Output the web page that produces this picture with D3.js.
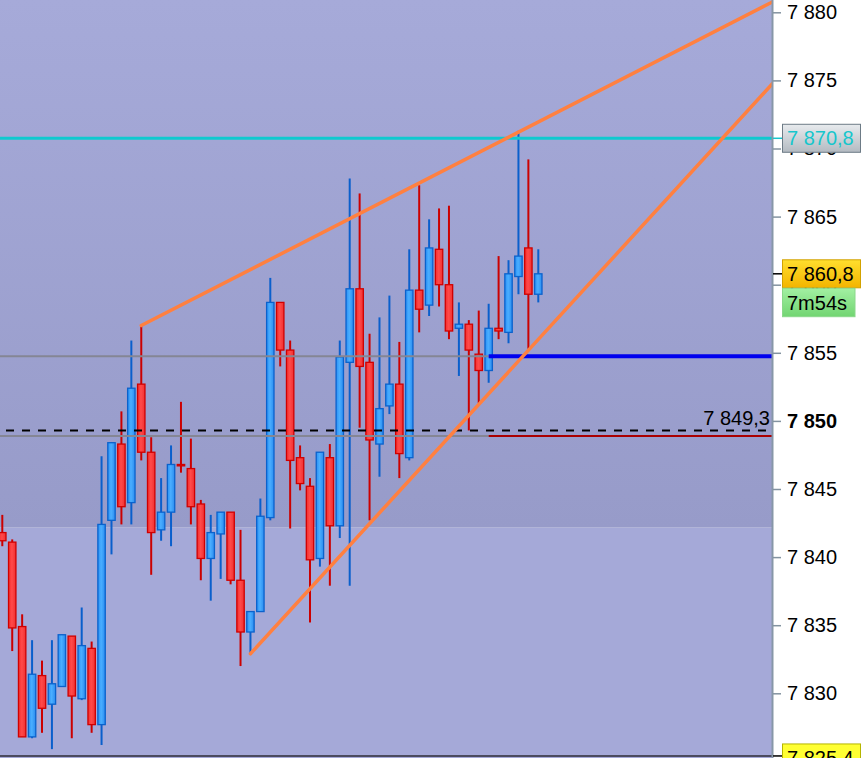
<!DOCTYPE html>
<html><head><meta charset="utf-8">
<script src="https://cdn.jsdelivr.net/npm/d3@7"></script>
<style>body{margin:0;background:#fff;} svg{display:block;font-family:"Liberation Sans",Arial,Helvetica,sans-serif;}</style>
</head><body><svg id="c" width="866" height="758"></svg>
<script>
// ---- data ----
const opens  = [7841.8,7841.1,7834.9,7826.8,7831.3,7829.2,7830.5,7834.2,7829.6,7833.3,7827.7,7842.7,7848.3,7844.0,7852.7,7847.7,7842.0,7843.3,7846.8,7846.5,7843.9,7839.9,7841.7,7843.3,7838.3,7834.5,7836.0,7842.9,7858.7,7855.2,7847.3,7845.2,7839.9,7847.3,7842.3,7854.3,7859.7,7854.3,7848.3,7851.1,7852.7,7847.3,7859.6,7858.5,7862.6,7860.0,7856.8,7857.1,7854.9,7853.7,7856.8,7856.5,7860.6,7862.7,7859.3];
const highs  = [7843.1,7841.3,7835.8,7833.9,7832.4,7833.9,7834.3,7834.2,7836.3,7833.8,7847.4,7848.4,7850.7,7855.9,7857.0,7848.8,7845.8,7848.2,7851.4,7848.7,7844.2,7843.1,7843.3,7843.3,7842.0,7836.0,7844.3,7860.5,7858.7,7855.9,7848.2,7845.8,7847.7,7848.3,7855.9,7867.8,7866.7,7856.4,7857.6,7859.2,7855.8,7862.6,7867.3,7864.8,7865.6,7865.8,7858.7,7857.4,7858.1,7858.6,7862.1,7861.8,7871.3,7869.2,7862.6];
const lows   = [7840.8,7833.1,7826.8,7826.7,7827.1,7825.9,7830.5,7826.7,7829.5,7827.1,7826.2,7840.2,7842.4,7842.4,7847.1,7838.7,7841.2,7840.8,7846.2,7842.4,7838.3,7836.8,7838.4,7838.0,7832.0,7832.9,7836.0,7842.7,7854.0,7842.1,7844.9,7835.2,7839.3,7837.9,7841.4,7837.9,7849.5,7842.7,7845.9,7850.5,7845.8,7847.1,7856.5,7857.7,7858.4,7856.0,7853.3,7849.3,7851.3,7852.8,7856.0,7855.7,7859.3,7855.3,7858.7];
const closes = [7841.2,7834.8,7826.8,7831.4,7828.9,7830.7,7834.3,7829.8,7833.5,7827.7,7842.4,7848.4,7843.7,7852.4,7847.7,7841.8,7843.3,7846.8,7846.7,7843.7,7839.9,7841.8,7843.3,7838.3,7834.5,7836.0,7843.0,7858.7,7855.2,7847.1,7845.4,7839.8,7847.7,7842.3,7854.7,7859.7,7854.0,7848.6,7850.9,7852.7,7847.6,7859.6,7858.2,7862.7,7860.0,7856.6,7857.1,7855.2,7853.7,7856.8,7856.6,7860.8,7862.1,7859.3,7860.8];

const tickValues = [7830,7835,7840,7845,7850,7855,7860,7865,7870,7875,7880];
const boldTick = 7850;
const highLevel = 7870.75;      // cyan line
const highLabel = 7870.8;
const lastPrice = 7860.8;
const timerText = "7m54s";
const lowLabel = 7825.4;
const dashedLevel = 7849.3;
const grayLevels = [7854.75, 7848.9];
const splitIndex = 49;
const blueLevel = 7854.75;
const redLevel = 7848.9;
const upperTrend = [[14, 7857.0], [52, 7871.2]];
const lowerTrend = [[25, 7832.9], [50, 7852.8]];

// ---- layout ----
const W = 866, H = 758, PR = 772, SPLIT_Y = 527.7;
const svg = d3.select("#c");
const x = d3.scaleLinear().domain([0, opens.length - 1]).range([2.3, 538.3]);
const y = d3.scaleLinear().domain([7830, 7880]).range([693.3, 12.3]);
const loc = d3.formatLocale({decimal: ",", thousands: " ", grouping: [3], currency: ["", ""]});
const f0 = loc.format(",.0f"), f1 = loc.format(",.1f");

const defs = svg.append("defs");
function grad(id, stops, vertical) {
  const g = defs.append("linearGradient").attr("id", id)
    .attr("x1", 0).attr("y1", 0).attr("x2", vertical ? 0 : 1).attr("y2", vertical ? 1 : 0);
  stops.forEach(s => g.append("stop").attr("offset", s[0]).attr("stop-color", s[1]));
}
grad("bg", [[0, "#a6aad9"], [1, "#979bc9"]], true);
grad("redB", [[0, "#f42c2c"], [0.45, "#ff4a4a"], [1, "#f03030"]], false);
grad("blueB", [[0, "#2a90f4"], [0.45, "#4aaeff"], [1, "#2b8cf0"]], false);
grad("grayBox", [[0, "#e8ebee"], [1, "#b3bac1"]], true);
grad("goldBox", [[0, "#ffdf2e"], [1, "#f3b400"]], true);
grad("greenBox", [[0, "#a2f0a2"], [1, "#72d572"]], true);
defs.append("clipPath").attr("id", "plot").append("rect").attr("x", 0).attr("y", 0).attr("width", PR).attr("height", H);

// background
svg.append("rect").attr("x", 0).attr("y", 0).attr("width", W).attr("height", H).attr("fill", "#fff");
svg.append("rect").attr("x", 0).attr("y", 0).attr("width", PR).attr("height", SPLIT_Y).attr("fill", "url(#bg)");
svg.append("rect").attr("x", 0).attr("y", SPLIT_Y).attr("width", PR).attr("height", H - SPLIT_Y).attr("fill", "#a5a9d8");

const plot = svg.append("g").attr("clip-path", "url(#plot)");

// candles
const data = opens.map((o, i) => ({i, o, h: highs[i], l: lows[i], c: closes[i]}));
const cg = plot.selectAll("g.c").data(data).join("g");
cg.append("line")
  .attr("x1", d => x(d.i)).attr("x2", d => x(d.i))
  .attr("y1", d => y(d.h)).attr("y2", d => y(d.l))
  .attr("stroke", d => d.c >= d.o ? "#0a5fcc" : "#cc0000").attr("stroke-width", 2);
cg.append("rect")
  .attr("x", d => x(d.i) - 3.7).attr("width", 7.4)
  .attr("y", d => y(Math.max(d.o, d.c)))
  .attr("height", d => Math.max(1, Math.abs(y(d.o) - y(d.c))))
  .attr("fill", d => d.c >= d.o ? "url(#blueB)" : "url(#redB)")
  .attr("stroke", d => d.c >= d.o ? "#0b62cc" : "#d00000").attr("stroke-width", 1.3);

// horizontal levels
plot.append("line").attr("x1", 0).attr("x2", PR).attr("y1", y(highLevel)).attr("y2", y(highLevel))
  .attr("stroke", "#0fc9cf").attr("stroke-width", 3);
grayLevels.forEach(v => plot.append("line").attr("x1", 0).attr("x2", x(splitIndex))
  .attr("y1", y(v)).attr("y2", y(v)).attr("stroke", "#858694").attr("stroke-width", 2));
plot.append("line").attr("x1", 6).attr("x2", PR).attr("y1", y(dashedLevel)).attr("y2", y(dashedLevel))
  .attr("stroke", "#000").attr("stroke-width", 2).attr("stroke-dasharray", "8,8");
plot.append("line").attr("x1", x(splitIndex)).attr("x2", PR).attr("y1", y(blueLevel)).attr("y2", y(blueLevel))
  .attr("stroke", "#0000ee").attr("stroke-width", 4);
plot.append("line").attr("x1", x(splitIndex)).attr("x2", PR).attr("y1", y(redLevel)).attr("y2", y(redLevel))
  .attr("stroke", "#aa0000").attr("stroke-width", 2);

// trend lines (extended to the right edge)
function trend(t) {
  const [[i0, p0], [i1, p1]] = t;
  const iR = x.invert(PR + 4);
  const pR = p0 + (p1 - p0) / (i1 - i0) * (iR - i0);
  plot.append("line").attr("x1", x(i0)).attr("y1", y(p0)).attr("x2", x(iR)).attr("y2", y(pR))
    .attr("stroke", "#ff8040").attr("stroke-width", 3.5).attr("stroke-linecap", "round");
}
trend(upperTrend);
trend(lowerTrend);

// dashed level label
svg.append("text").attr("x", 770).attr("y", y(dashedLevel) - 5).attr("text-anchor", "end")
  .attr("font-size", 20).attr("fill", "#000").text(f1(dashedLevel));

// bottom border
svg.append("line").attr("x1", 0).attr("x2", PR).attr("y1", 756).attr("y2", 756).attr("stroke", "#4b4b5e").attr("stroke-width", 2);

// axis
svg.append("line").attr("x1", PR + 0.5).attr("x2", PR + 0.5).attr("y1", 0).attr("y2", H).attr("stroke", "#8797a8").attr("stroke-width", 2);
const ax = svg.append("g").attr("transform", `translate(${PR + 1},0)`)
  .call(d3.axisRight(y).tickValues(tickValues).tickSize(8).tickPadding(6).tickFormat(f0));
ax.select(".domain").remove();
ax.selectAll(".tick line").attr("stroke", "#8393a0").attr("stroke-width", 1.5);
ax.selectAll(".tick text").attr("font-size", 20).attr("fill", "#000")
  .attr("font-family", '"Liberation Sans",Arial,sans-serif')
  .attr("font-weight", d => d === boldTick ? "bold" : "normal");

// price boxes
function box(v, yc, fill, stroke, txt, color, w, off) {
  svg.append("line").attr("x1", PR + 1).attr("x2", PR + 10).attr("y1", yc).attr("y2", yc).attr("stroke", color === "#000" ? "#000" : color).attr("stroke-width", 1.5);
  const bc = yc + (off || 0);
  svg.append("rect").attr("x", 782.5).attr("y", bc - 14).attr("width", w).attr("height", 28)
    .attr("fill", fill).attr("stroke", stroke).attr("stroke-width", 1);
  svg.append("text").attr("x", 787).attr("y", bc + 7.2).attr("font-size", 20).attr("fill", color).text(txt);
}
box(highLevel, y(highLevel), "url(#grayBox)", "#6d7b86", f1(highLabel), "#17c6cc", 78);
box(lastPrice, y(lastPrice), "url(#goldBox)", "#d2a200", f1(lastPrice), "#000", 78);
svg.append("rect").attr("x", 782.5).attr("y", y(lastPrice) + 14.5).attr("width", 72.5).attr("height", 28.4)
  .attr("fill", "url(#greenBox)").attr("stroke", "#8ad88a").attr("stroke-width", 1);
svg.append("text").attr("x", 787).attr("y", y(lastPrice) + 36).attr("font-size", 20).attr("fill", "#000").text(timerText);
box(lowLabel, y(lowLabel), "#ffff33", "#b5b500", f1(lowLabel), "#000", 78, 2);
</script></body></html>
